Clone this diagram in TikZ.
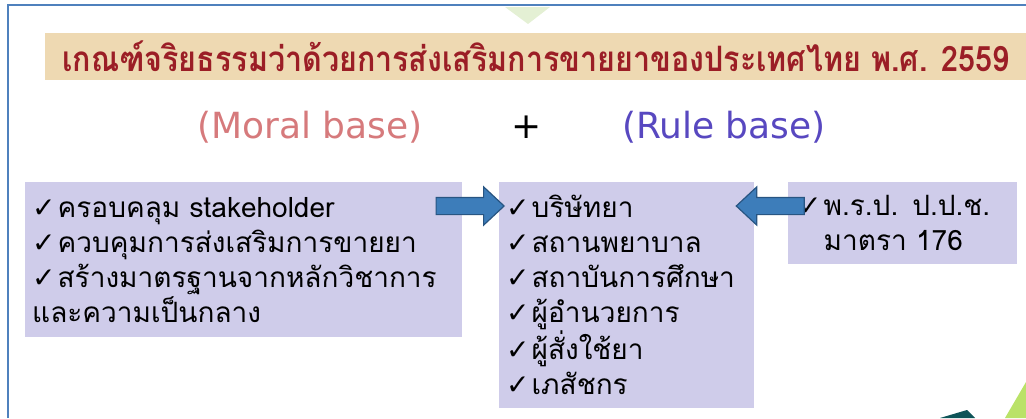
\documentclass[tikz,border=0pt]{standalone}
\usepackage{fontspec}
\usetikzlibrary{shapes.arrows, positioning}
\newfontfamily\thaifont[Script=Thai]{Loma}
\newfontfamily\latinfont{DejaVu Sans}
\definecolor{boxfill}{RGB}{207,204,234}
\definecolor{arrowfill}{RGB}{61,125,186}
\definecolor{arrowline}{RGB}{40,85,130}
\definecolor{titlefill}{RGB}{238,217,178}
\definecolor{titletext}{RGB}{155,30,38}
\definecolor{moralcol}{RGB}{214,122,124}
\definecolor{rulecol}{RGB}{88,72,192}
\definecolor{framecol}{RGB}{79,129,189}
\definecolor{paletri}{RGB}{228,240,212}
\definecolor{tealtri}{RGB}{14,84,88}
\definecolor{limetri}{RGB}{186,226,104}
\newcommand{\tick}{{\latinfont\fontsize{28}{28}\selectfont\char"2713}\hspace{2pt}}
\tikzstyle{box} = [rectangle, anchor=north west, fill=boxfill, inner xsep=7pt, inner ysep=0pt, align=left, font=\thaifont\fontsize{28}{35}\selectfont]
\tikzstyle{blockarrow} = [single arrow, draw=arrowline, fill=arrowfill, line width=1.2pt, minimum width=37pt, minimum height=68pt, single arrow head extend=10.5pt, single arrow tip angle=86, inner xsep=0pt, inner ysep=8pt]
\tikzstyle{heading} = [font=\latinfont\fontsize{36}{36}\selectfont]

\begin{document}
\begin{tikzpicture}[x=1pt, y=-1pt]
    \useasboundingbox (0,0) rectangle (1026,418);

    % slide frame and corner shapes
    \fill[paletri] (505,7) -- (550,7) -- (528,24) -- cycle;
    \fill[tealtri] (940,418) -- (967,410) -- (975,418) -- cycle;
    \fill[limetri] (1005,418) -- (1026,382) -- (1026,418) -- cycle;
    \draw[framecol, line width=2pt] (8,418) -- (8,5) -- (1026,5);

    \node (title) [fill=titlefill, minimum width=981pt, minimum height=47pt, anchor=north west, text=titletext, font=\thaifont\bfseries\fontsize{35}{35}\selectfont] at (45,33) {\scalebox{0.87}[1]{เกณฑ์จริยธรรมว่าด้วยการส่งเสริมการขายยาของประเทศไทย พ.ศ. 2559}};

    \node (moral) [heading, text=moralcol] at (310,127) {(Moral base)};
    \node (plus) [heading] at (527,127) {+};
    \node (rule) [heading, text=rulecol] at (724,127) {(Rule base)};

    \node (moralbox) [box, minimum height=155pt, text width=423pt] at (25,182) {\tick ครอบคลุม stakeholder\\ \tick ควบคุมการส่งเสริมการขายยา\\ \tick สร้างมาตรฐานจากหลักวิชาการ\\ และความเป็นกลาง};
    \node (rulebox) [box, minimum height=226pt, text width=241pt] at (499,182) {\tick บริษัทยา\\ \tick สถานพยาบาล\\ \tick สถาบันการศึกษา\\ \tick ผู้อำนวยการ\\ \tick ผู้สั่งใช้ยา\\ \tick เภสัชกร};
    \node (lawbox) [box, inner xsep=10pt, minimum height=82pt, text width=209pt] at (788,182) {\tick พ.ร.ป. ป.ป.ช.\\ \phantom{\tick}มาตรา 176};

    \node (arrowA) [blockarrow, anchor=tip] at ([xshift=6pt, yshift=-24pt]rulebox.north west) {};
    \node (arrowB) [blockarrow, shape border rotate=180, anchor=tip] at ([xshift=-19pt, yshift=-24pt]rulebox.north east) {};

\end{tikzpicture}
\end{document}
